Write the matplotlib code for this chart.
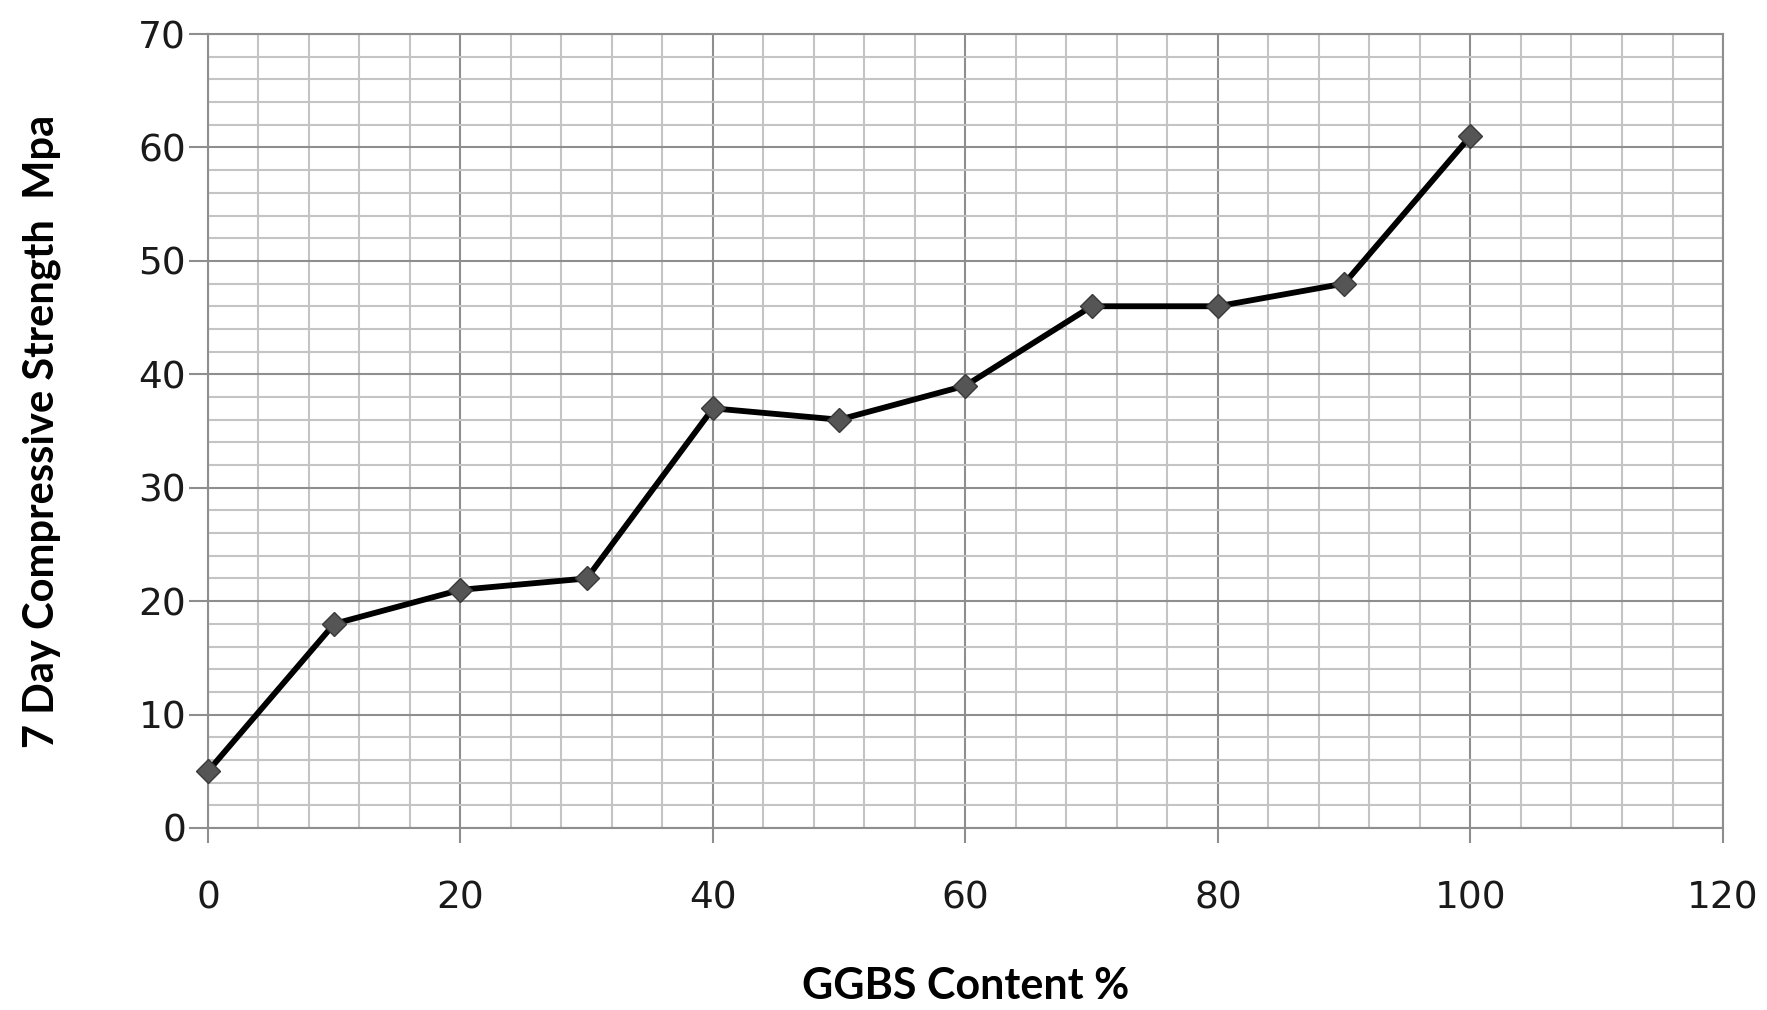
import numpy as np
import matplotlib
matplotlib.use('Agg')
import matplotlib.pyplot as plt
from matplotlib.ticker import MultipleLocator

# GGBS replacement level (%) vs 7-day compressive strength (MPa)
ggbs_content = [0, 10, 20, 30, 40, 50, 60, 70, 80, 90, 100]
strength_7day = [5, 18, 21, 22, 37, 36, 39, 46, 46, 48, 61]

x_ticks = [0, 20, 40, 60, 80, 100, 120]
y_ticks = [0, 10, 20, 30, 40, 50, 60, 70]

major_grid = '#8e8e8e'
minor_grid = '#c4c4c4'

fig = plt.figure(figsize=(17.67, 10.10), dpi=100)
ax = fig.add_axes([0.1177, 0.1802, 0.8574, 0.7861])

ax.plot(ggbs_content, strength_7day, color='black', linewidth=4.2,
        marker='D', markersize=12, markerfacecolor='#555555',
        markeredgecolor='#3a3a3a', markeredgewidth=1.0,
        clip_on=False, zorder=5)

ax.set_xlim(0, 120)
ax.set_ylim(0, 70)
ax.set_xticks(x_ticks)
ax.set_yticks(y_ticks)
ax.xaxis.set_minor_locator(MultipleLocator(4))
ax.yaxis.set_minor_locator(MultipleLocator(2))

ax.grid(which='major', color=major_grid, linewidth=1.5)
ax.grid(which='minor', color=minor_grid, linewidth=1.5)
ax.set_axisbelow(True)

for side in ['left', 'bottom', 'top', 'right']:
    ax.spines[side].set_color(major_grid)
    ax.spines[side].set_linewidth(1.5)

ax.tick_params(which='minor', length=0)
ax.tick_params(axis='y', which='major', length=13.7, width=1.5, color=major_grid,
               pad=2, labelsize=27, labelcolor='#1a1a1a')
ax.tick_params(axis='x', which='major', length=11, width=1.5, color=major_grid,
               pad=27, labelsize=27, labelcolor='#1a1a1a')
for lbl in ax.get_xticklabels() + ax.get_yticklabels():
    lbl.set_family('DejaVu Sans')

ax.set_xlabel('GGBS Content %', family='Lato', fontweight='bold', fontsize=31,
              va='baseline')
ax.xaxis.set_label_coords(0.5, -0.216)
ax.set_ylabel('7 Day Compressive Strength  Mpa', family='Lato', fontweight='bold',
              fontsize=30, va='center')
ax.yaxis.set_label_coords(-0.1096, 0.5)

fig.savefig('out.png', dpi=100)
